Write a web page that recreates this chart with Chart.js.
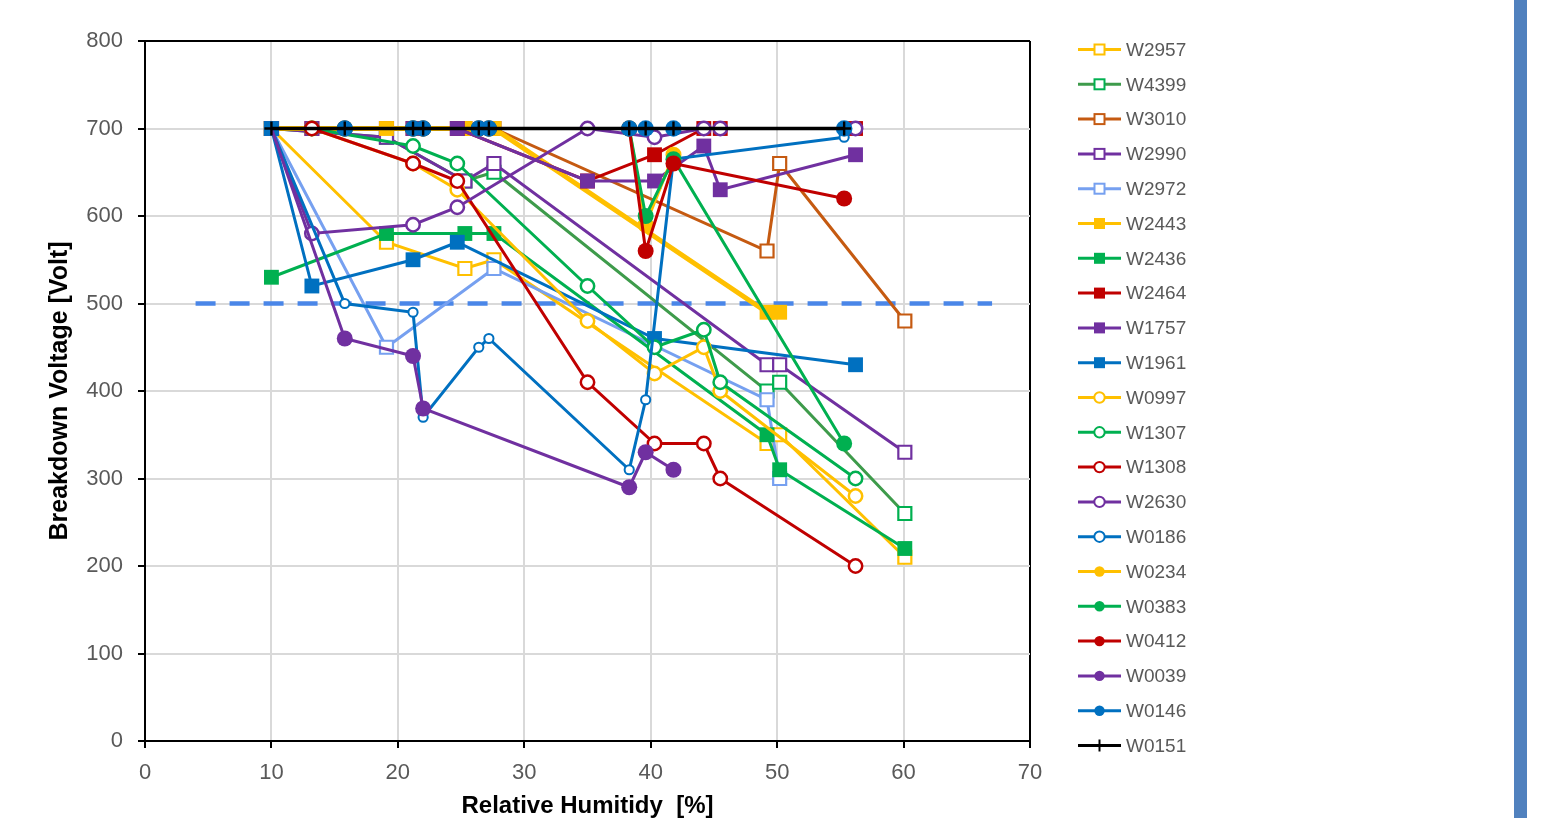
<!DOCTYPE html>
<html><head><meta charset="utf-8">
<script src="https://cdn.jsdelivr.net/npm/chart.js@4/dist/chart.umd.min.js"></script>
<style>
html,body{margin:0;padding:0;background:#fff;overflow:hidden}
#wrap{position:relative;width:1557px;height:818px}
#c{position:absolute;left:0;top:0}
#bar{position:absolute;left:1514px;top:0;width:13px;height:818px;background:#5081BE}
</style></head><body>
<div id="wrap"><canvas id="c" width="1557" height="818"></canvas><div id="bar"></div></div>
<script>
// ---- data ----
const seriesNames = ["W2957","W4399","W3010","W2990","W2972","W2443","W2436","W2464","W1757","W1961",
  "W0997","W1307","W1308","W2630","W0186","W0234","W0383","W0412","W0039","W0146","W0151"];

const xSq     = [10, 19.1, 25.3, 27.6, 49.2, 50.2, 60.1];
const xSq2972 = [10, 19.1, 27.6, 49.2, 50.2];
const xSq2443 = [10, 19.1, 25.3, 27.6, 49.2, 50.2];
const xCi     = [10, 13.2, 21.2, 24.7, 35, 40.3, 44.2, 45.5, 56.2];
const x1961   = [10, 13.2, 21.2, 24.7, 40.3, 56.2];
const xBl     = [10, 15.8, 21.2, 22, 26.4, 27.2, 38.3, 39.6, 41.8, 55.3];
const x0234   = [10, 15.8, 21.2, 22, 26.4, 27.2, 38.3, 39.6, 41.8];
const x0039   = [10, 15.8, 21.2, 22, 38.3, 39.6, 41.8];

const vW2957 = [700, 570, 540, 550, 340, 350, 210];
const vW4399 = [700, 690, 640, 650, 400, 410, 260];
const vW3010 = [700, 700, 700, 700, 560, 660, 480];
const vW2990 = [700, 690, 640, 660, 430, 430, 330];
const vW2972 = [700, 450, 540, 390, 300];
const vW2443 = [700, 700, 700, 700, 490, 490];
const vW2436 = [530, 580, 580, 580, 350, 310, 220];
const vW2464 = [700, 700, 700, 700, 640, 670, 700, 700, 700];
const vW1757 = [700, 700, 700, 700, 640, 640, 680, 630, 670];
const vW1961 = [700, 520, 550, 570, 460, 430];
const vW0997 = [700, 700, 660, 630, 480, 420, 450, 400, 280];
const vW1307 = [700, 700, 680, 660, 520, 450, 470, 410, 300];
const vW1308 = [700, 700, 660, 640, 410, 340, 340, 300, 200];
const vW2630 = [700, 580, 590, 610, 700, 690, 700, 700, 700];
const vW0186 = [700, 500, 490, 370, 450, 460, 310, 390, 665, 690];
const vW0234 = [700, 700, 700, 700, 700, 700, 700, 590, 670];
const vW0383 = [700, 700, 700, 700, 700, 700, 700, 600, 665, 340];
const vW0412 = [700, 700, 700, 700, 700, 700, 700, 560, 660, 620];
const vW0039 = [700, 460, 440, 380, 290, 330, 310];
const vW0146 = [700, 700, 700, 700, 700, 700, 700, 700, 700, 700];
const vW0151 = [700, 700, 700, 700, 700, 700, 700, 700, 700, 700];

const thresholdX = [4, 67];
const thresholdV = [500, 500];

const xTicks = [0, 10, 20, 30, 40, 50, 60, 70];
const yTicks = [0, 100, 200, 300, 400, 500, 600, 700, 800];

// ---- styles ----
const GOLD='#FFC000', GREEN='#00B050', DKGREEN='#3E9B4B', BROWN='#C55A11', PURPLE='#7030A0',
      LBLUE='#76A0F0', RED='#C00000', BLUE='#0070C0', BLACK='#000000';
// kind: os=open square, fs=filled square, oc=open circle, sc=small open circle, fc=filled circle, x=cross
const styles = [
  {xs:xSq, ys:vW2957, c:GOLD, k:'os'},
  {xs:xSq, ys:vW4399, c:DKGREEN, mc:GREEN, k:'os'},
  {xs:xSq, ys:vW3010, c:BROWN, k:'os'},
  {xs:xSq, ys:vW2990, c:PURPLE, k:'os'},
  {xs:xSq2972, ys:vW2972, c:LBLUE, k:'os'},
  {xs:xSq2443, ys:vW2443, c:GOLD, k:'fs', w:5},
  {xs:xSq, ys:vW2436, c:GREEN, k:'fs'},
  {xs:xCi, ys:vW2464, c:RED, k:'fs'},
  {xs:xCi, ys:vW1757, c:PURPLE, k:'fs'},
  {xs:x1961, ys:vW1961, c:BLUE, k:'fs'},
  {xs:xCi, ys:vW0997, c:GOLD, k:'oc', skip0:true},
  {xs:xCi, ys:vW1307, c:GREEN, k:'oc', skip0:true},
  {xs:xCi, ys:vW1308, c:RED, k:'oc', skip0:true},
  {xs:xCi, ys:vW2630, c:PURPLE, k:'oc', skip0:true},
  {xs:xBl, ys:vW0186, c:BLUE, k:'sc', skip0:true},
  {xs:x0234, ys:vW0234, c:GOLD, k:'fc', skip0:true},
  {xs:xBl, ys:vW0383, c:GREEN, k:'fc', skip0:true},
  {xs:xBl, ys:vW0412, c:RED, k:'fc', skip0:true},
  {xs:x0039, ys:vW0039, c:PURPLE, k:'fc', skip0:true},
  {xs:xBl, ys:vW0146, c:BLUE, k:'fc', skip0:true, r:8.3},
  {xs:xBl, ys:vW0151, c:BLACK, k:'x', w:3.5}
];

const N = styles.length;
const datasets = styles.map((s, i) => {
  const mc = s.mc || s.c;
  let ps = 'circle', r = 7, bg = '#fff', bw = 2.5;
  if (s.k === 'os') { ps = 'rect'; r = 9.2; bg = '#fff'; bw = 2.2; }
  if (s.k === 'fs') { ps = 'rect'; r = 10.5; bg = mc; bw = 0; }
  if (s.k === 'oc') { ps = 'circle'; r = 6.7; bg = '#fff'; bw = 2.5; }
  if (s.k === 'sc') { ps = 'circle'; r = 4.6; bg = '#fff'; bw = 2; }
  if (s.k === 'fc') { ps = 'circle'; r = s.r || 8; bg = mc; bw = 0; }
  if (s.k === 'x')  { ps = 'cross'; r = 7; bg = mc; bw = 2.4; }
  return {
    label: seriesNames[i],
    data: s.xs.map((x, j) => ({x: x, y: s.ys[j]})),
    showLine: true,
    borderColor: s.c,
    borderWidth: s.w || 3,
    backgroundColor: bg,
    pointStyle: ps,
    pointRadius: s.skip0 ? (ctx => ctx.dataIndex === 0 ? 0 : r) : r,
    pointBackgroundColor: bg,
    pointBorderColor: mc,
    pointBorderWidth: bw,
    tension: 0,
    order: N - i + 1
  };
});
datasets.push({
  label: 'threshold',
  data: thresholdX.map((x, j) => ({x: x, y: thresholdV[j]})),
  showLine: true,
  borderColor: '#4A86E8',
  borderWidth: 4.5,
  borderDash: [20, 14],
  pointRadius: 0,
  order: N + 5
});

const FONT = '"Liberation Sans", Arial, sans-serif';

const legendPlugin = {
  id: 'xlLegend',
  afterDraw(chart) {
    const ctx = chart.ctx;
    ctx.save();
    styles.forEach((s, i) => {
      const y = 49.5 + i * 34.8;
      const mc = s.mc || s.c;
      ctx.strokeStyle = s.c; ctx.lineWidth = 3; ctx.setLineDash([]);
      ctx.beginPath(); ctx.moveTo(1078, y); ctx.lineTo(1121, y); ctx.stroke();
      const cx = 1099.5;
      if (s.k === 'os' || s.k === 'fs') {
        if (s.k === 'os') { ctx.fillStyle = '#fff'; ctx.fillRect(cx - 5, y - 5, 10, 10); ctx.strokeStyle = mc; ctx.lineWidth = 2; ctx.strokeRect(cx - 5, y - 5, 10, 10); }
        else { ctx.fillStyle = mc; ctx.fillRect(cx - 5.5, y - 5.5, 11, 11); }
      } else if (s.k === 'x') {
        ctx.strokeStyle = mc; ctx.lineWidth = 2;
        ctx.beginPath(); ctx.moveTo(cx, y - 6); ctx.lineTo(cx, y + 6); ctx.stroke();
      } else {
        ctx.beginPath(); ctx.arc(cx, y, 5.2, 0, Math.PI * 2);
        if (s.k === 'fc') { ctx.fillStyle = mc; ctx.fill(); }
        else { ctx.fillStyle = '#fff'; ctx.fill(); ctx.strokeStyle = mc; ctx.lineWidth = 2; ctx.stroke(); }
      }
      ctx.fillStyle = '#595959';
      ctx.font = '19px ' + FONT;
      ctx.textBaseline = 'middle'; ctx.textAlign = 'left';
      ctx.fillText(seriesNames[i], 1126, y + 1);
    });
    ctx.restore();
  }
};

new Chart(document.getElementById('c'), {
  type: 'scatter',
  data: { datasets: datasets },
  plugins: [legendPlugin],
  options: {
    responsive: false,
    animation: false,
    events: [],
    layout: { padding: { left: 0, top: 41, right: 527, bottom: 0 } },
    plugins: { legend: { display: false }, tooltip: { enabled: false } },
    scales: {
      x: {
        type: 'linear', min: 0, max: 70,
        afterFit: s => { s.height = 77; },
        afterBuildTicks: s => { s.ticks = xTicks.map(v => ({value: v})); },
        ticks: { color: '#595959', font: { size: 22, family: FONT }, padding: 12 },
        grid: {
          color: c => (c.tick && c.tick.value === 70) ? '#000' : '#d9d9d9',
          lineWidth: 2, tickColor: '#000', tickLength: 7, tickWidth: 2, drawTicks: true
        },
        border: { display: true, color: '#000', width: 2 },
        title: { display: true, text: 'Relative Humitidy  [%]', color: '#000',
          font: { size: 24, weight: 'bold', family: FONT, lineHeight: 1 }, padding: { top: 0, bottom: 0 } }
      },
      y: {
        type: 'linear', min: 0, max: 800,
        afterFit: s => { s.width = 145; },
        afterBuildTicks: s => { s.ticks = yTicks.map(v => ({value: v})); },
        ticks: { color: '#595959', font: { size: 22, family: FONT }, padding: 15 },
        grid: {
          color: c => (c.tick && c.tick.value === 800) ? '#000' : '#d9d9d9',
          lineWidth: 2, tickColor: '#000', tickLength: 7, tickWidth: 2, drawTicks: true
        },
        border: { display: true, color: '#000', width: 2 },
        title: { display: true, text: 'Breakdown Voltage [Volt]', color: '#000',
          font: { size: 25, weight: 'bold', family: FONT, lineHeight: 1 }, padding: { top: 48, bottom: 0 } }
      }
    }
  }
});
</script>
</body></html>
